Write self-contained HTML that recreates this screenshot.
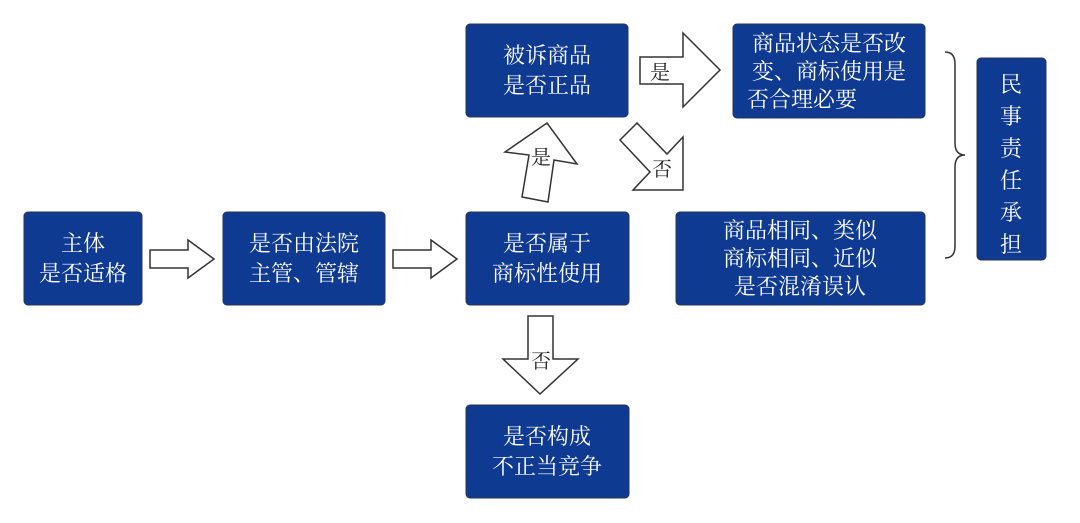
<!DOCTYPE html>
<html><head><meta charset="utf-8"><style>
html,body{margin:0;padding:0;background:#fff;}
svg{display:block;}
.b{fill:#0f3a92;stroke:#2a3550;stroke-width:1;}
.t{fill:#fff;font-family:"Noto Serif CJK SC","Liberation Serif",serif;font-size:22px;text-anchor:middle;}
.a{fill:#fff;stroke:#333;stroke-width:1.5;stroke-linejoin:miter;}
.l{fill:#222;font-family:"Noto Serif CJK SC","Liberation Serif",serif;font-size:20px;text-anchor:middle;}
</style></head><body>
<svg width="1080" height="523" viewBox="0 0 1080 523">
<rect class="b" x="24" y="212" width="118" height="93" rx="4"/>
<text class="t" x="83" y="251">主体</text><text class="t" x="83" y="281">是否适格</text>
<rect class="b" x="223" y="212" width="162" height="93" rx="4"/>
<text class="t" x="304" y="251">是否由法院</text><text class="t" x="304" y="281">主管、管辖</text>
<rect class="b" x="466" y="212" width="163" height="93" rx="4"/>
<text class="t" x="547" y="251">是否属于</text><text class="t" x="547" y="281">商标性使用</text>
<rect class="b" x="466" y="24" width="162" height="93" rx="4"/>
<text class="t" x="547" y="63">被诉商品</text><text class="t" x="547" y="93">是否正品</text>
<rect class="b" x="733" y="24" width="192" height="94" rx="4"/>
<text class="t" x="829" y="51">商品状态是否改</text><text class="t" x="829" y="79">变、商标使用是</text><text class="t" x="802" y="107">否合理必要</text>
<rect class="b" x="676" y="212" width="249" height="93" rx="4"/>
<text class="t" x="800" y="238">商品相同、类似</text><text class="t" x="800" y="266">商标相同、近似</text><text class="t" x="800" y="294">是否混淆误认</text>
<rect class="b" x="466" y="405" width="163" height="93" rx="4"/>
<text class="t" x="547" y="444">是否构成</text><text class="t" x="547" y="474">不正当竞争</text>
<rect class="b" x="977" y="58" width="69" height="202" rx="4"/>
<text class="t" x="1011" y="92">民</text><text class="t" x="1011" y="124">事</text><text class="t" x="1011" y="156">责</text><text class="t" x="1011" y="188">任</text><text class="t" x="1011" y="220">承</text><text class="t" x="1011" y="252">担</text>
<path d="M945,52 Q955,52 955,64 L955,143 Q955,155 965,155 Q955,155 955,167 L955,246 Q955,258 945,258" fill="none" stroke="#333" stroke-width="1.5"/>
<polygon class="a" points="150,250 188,250 188,240 214,259 188,278 188,268 150,268"/>
<polygon class="a" points="393,250 431,250 431,240 457,259 431,278 431,268 393,268"/>
<polygon class="a" points="640,57 683,57 683,33 720,70 683,107 683,84 640,84"/>
<text class="l" x="660" y="79">是</text>
<polygon class="a" points="547,123 577,164 554,160 548,202 522,197 529,155 505,152"/>
<text class="l" x="541" y="164">是</text>
<polygon class="a" points="637,123 667,154 683,137 683,190 633,190 650,172 620,140"/>
<text class="l" x="662" y="176">否</text>
<polygon class="a" points="528,316 553,316 553,359 578,359 540,394 503,359 528,359"/>
<text class="l" x="541" y="368">否</text>
</svg>
</body></html>
